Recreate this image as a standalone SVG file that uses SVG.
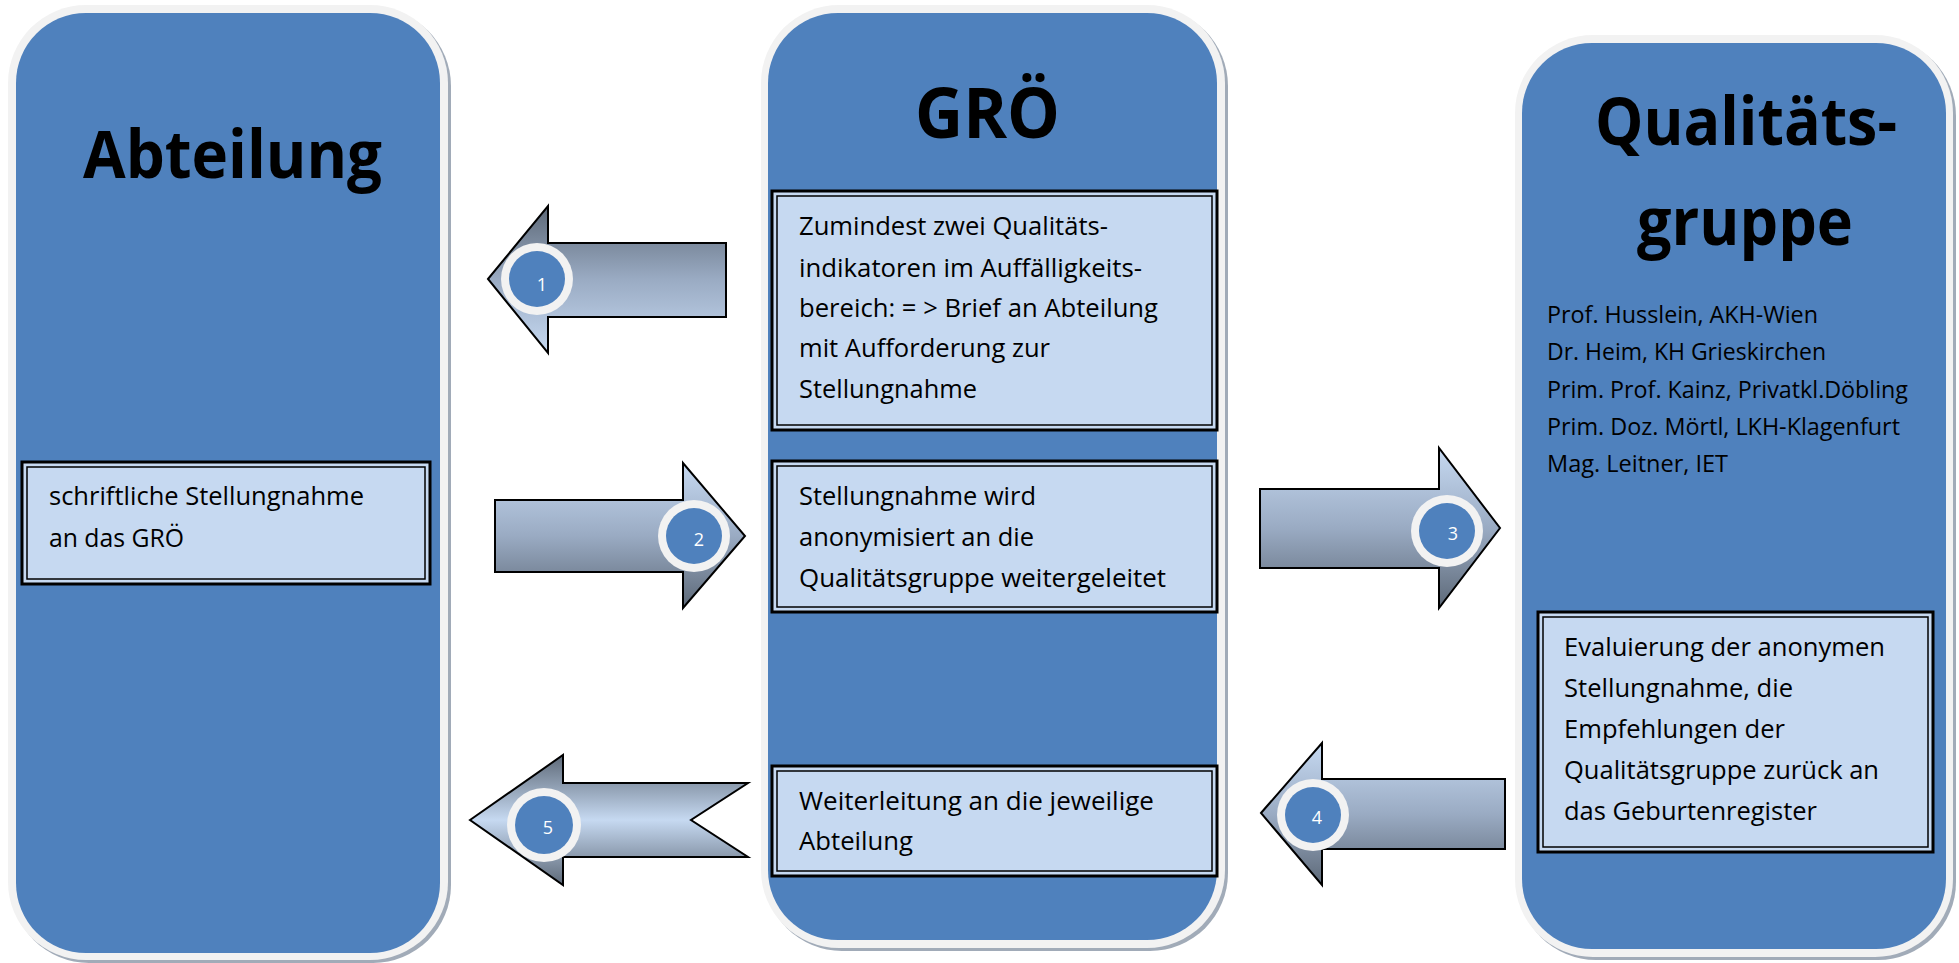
<svg xmlns="http://www.w3.org/2000/svg" width="1959" height="963" viewBox="0 0 1959 963">
<style>
.shadow{fill:#a1abb8}
.rim{fill:#f2f2f2}
.col{fill:#4f81bd}
.title{font-family:"Open Sans","Liberation Sans",sans-serif;font-weight:bold;font-size:67px;fill:#000}
.body{font-family:"Open Sans","Liberation Sans",sans-serif;font-size:25px;fill:#000}
.names{font-family:"Open Sans","Liberation Sans",sans-serif;font-size:23.5px;fill:#000}
.boxo{fill:#c6d9f1;stroke:#000;stroke-width:3}
.boxi{fill:none;stroke:#000;stroke-width:1.5}
.arrow{stroke:#000;stroke-width:2;stroke-linejoin:miter}
.ring{fill:#f2f2f2}
.dot{fill:#4f81bd}
.num{font-family:"Open Sans","Liberation Sans",sans-serif;font-size:18px;fill:#fff;text-anchor:middle}
</style>
<defs>
<linearGradient id="gDarkTop" x1="0" y1="0" x2="0" y2="1">
<stop offset="0" stop-color="#5d6978"/>
<stop offset="0.5" stop-color="#9aabc3"/>
<stop offset="1" stop-color="#c6d9f1"/>
</linearGradient>
<linearGradient id="gLightTop" x1="0" y1="0" x2="0" y2="1">
<stop offset="0" stop-color="#c6d9f1"/>
<stop offset="0.5" stop-color="#9aabc3"/>
<stop offset="1" stop-color="#5d6978"/>
</linearGradient>
<linearGradient id="gMid" x1="0" y1="0" x2="0" y2="1">
<stop offset="0" stop-color="#5d6978"/>
<stop offset="0.5" stop-color="#c6d9f1"/>
<stop offset="1" stop-color="#5d6978"/>
</linearGradient>
</defs>

<g id="abteilung">
<rect class="shadow" x="11" y="8" width="440" height="955" rx="78"/>
<rect class="rim" x="8" y="5" width="440" height="955" rx="78"/>
<rect class="col" x="16" y="13" width="424" height="940" rx="70"/>
<text class="title" x="83" y="178" textLength="299" lengthAdjust="spacingAndGlyphs">Abteilung</text>
</g>

<g id="abteilung-box">
<rect class="boxo" x="22" y="462" width="408" height="122"/>
<rect class="boxi" x="27" y="467" width="398" height="112"/>
<text class="body" x="49" y="505" textLength="315" lengthAdjust="spacingAndGlyphs">schriftliche Stellungnahme</text>
<text class="body" x="49" y="547" textLength="135" lengthAdjust="spacingAndGlyphs">an das GRÖ</text>
</g>

<g id="groe">
<rect class="shadow" x="764" y="8" width="464" height="943" rx="78"/>
<rect class="rim" x="761" y="5" width="464" height="943" rx="78"/>
<rect class="col" x="768" y="13" width="449" height="927" rx="70"/>
<text class="title" x="915" y="138" font-size="70" style="font-size:70px" textLength="145" lengthAdjust="spacingAndGlyphs">GRÖ</text>
</g>

<g id="groe-box1">
<rect class="boxo" x="772" y="191" width="445" height="239"/>
<rect class="boxi" x="777" y="196" width="435" height="229"/>
<text class="body" x="799" y="235" textLength="309" lengthAdjust="spacingAndGlyphs">Zumindest zwei Qualitäts-</text>
<text class="body" x="799" y="277" textLength="343" lengthAdjust="spacingAndGlyphs">indikatoren im Auffälligkeits-</text>
<text class="body" x="799" y="317" textLength="359" lengthAdjust="spacingAndGlyphs">bereich: = &gt; Brief an Abteilung</text>
<text class="body" x="799" y="357" textLength="251" lengthAdjust="spacingAndGlyphs">mit Aufforderung zur</text>
<text class="body" x="799" y="398" textLength="178" lengthAdjust="spacingAndGlyphs">Stellungnahme</text>
</g>

<g id="groe-box2">
<rect class="boxo" x="772" y="461" width="445" height="151"/>
<rect class="boxi" x="777" y="466" width="435" height="141"/>
<text class="body" x="799" y="505" textLength="237" lengthAdjust="spacingAndGlyphs">Stellungnahme wird</text>
<text class="body" x="799" y="546" textLength="235" lengthAdjust="spacingAndGlyphs">anonymisiert an die</text>
<text class="body" x="799" y="587" textLength="367" lengthAdjust="spacingAndGlyphs">Qualitätsgruppe weitergeleitet</text>
</g>

<g id="groe-box3">
<rect class="boxo" x="772" y="766" width="445" height="110"/>
<rect class="boxi" x="777" y="771" width="435" height="100"/>
<text class="body" x="799" y="810" textLength="355" lengthAdjust="spacingAndGlyphs">Weiterleitung an die jeweilige</text>
<text class="body" x="799" y="850" textLength="114" lengthAdjust="spacingAndGlyphs">Abteilung</text>
</g>

<g id="qualitaetsgruppe">
<rect class="shadow" x="1518" y="38" width="438" height="922" rx="78"/>
<rect class="rim" x="1515" y="35" width="438" height="922" rx="78"/>
<rect class="col" x="1522" y="43" width="424" height="906" rx="70"/>
<text class="title" x="1595" y="145" textLength="302" lengthAdjust="spacingAndGlyphs">Qualitäts-</text>
<text class="title" x="1637" y="245" textLength="216" lengthAdjust="spacingAndGlyphs">gruppe</text>
<text class="names" x="1547" y="323" textLength="271" lengthAdjust="spacingAndGlyphs">Prof. Husslein, AKH-Wien</text>
<text class="names" x="1547" y="360" textLength="279" lengthAdjust="spacingAndGlyphs">Dr. Heim, KH Grieskirchen</text>
<text class="names" x="1547" y="398" textLength="361" lengthAdjust="spacingAndGlyphs">Prim. Prof. Kainz, Privatkl.Döbling</text>
<text class="names" x="1547" y="435" textLength="353" lengthAdjust="spacingAndGlyphs">Prim. Doz. Mörtl, LKH-Klagenfurt</text>
<text class="names" x="1547" y="472" textLength="181" lengthAdjust="spacingAndGlyphs">Mag. Leitner, IET</text>
</g>

<g id="qualitaetsgruppe-box">
<rect class="boxo" x="1538" y="612" width="395" height="240"/>
<rect class="boxi" x="1543" y="617" width="385" height="230"/>
<text class="body" x="1564" y="656" textLength="321" lengthAdjust="spacingAndGlyphs">Evaluierung der anonymen</text>
<text class="body" x="1564" y="697" textLength="229" lengthAdjust="spacingAndGlyphs">Stellungnahme, die</text>
<text class="body" x="1564" y="738" textLength="221" lengthAdjust="spacingAndGlyphs">Empfehlungen der</text>
<text class="body" x="1564" y="779" textLength="315" lengthAdjust="spacingAndGlyphs">Qualitätsgruppe zurück an</text>
<text class="body" x="1564" y="820" textLength="253" lengthAdjust="spacingAndGlyphs">das Geburtenregister</text>
</g>

<g id="connectors">
<g id="arrow1">
<polygon class="arrow" fill="url(#gDarkTop)" points="488,279 548,206 548,243 726,243 726,317 548,317 548,353"/>
<circle class="ring" cx="537" cy="279" r="36"/>
<circle class="dot" cx="537" cy="279" r="28"/>
<text class="num" x="542" y="291">1</text>
</g>
<g id="arrow2">
<polygon class="arrow" fill="url(#gLightTop)" points="495,500 683,500 683,463 745,536 683,608 683,572 495,572"/>
<circle class="ring" cx="694" cy="536" r="36"/>
<circle class="dot" cx="694" cy="536" r="28"/>
<text class="num" x="699" y="546">2</text>
</g>
<g id="arrow3">
<polygon class="arrow" fill="url(#gLightTop)" points="1260,489 1439,489 1439,448 1500,528 1439,608 1439,568 1260,568"/>
<circle class="ring" cx="1447" cy="531" r="36"/>
<circle class="dot" cx="1447" cy="531" r="28"/>
<text class="num" x="1453" y="540">3</text>
</g>
<g id="arrow4">
<polygon class="arrow" fill="url(#gLightTop)" points="1261,813 1322,743 1322,779 1505,779 1505,849 1322,849 1322,885"/>
<circle class="ring" cx="1313" cy="815" r="36"/>
<circle class="dot" cx="1313" cy="815" r="28"/>
<text class="num" x="1317" y="824">4</text>
</g>
<g id="arrow5">
<polygon class="arrow" fill="url(#gMid)" points="470,820 563,755 563,783 748,783 691,820 748,857 563,857 563,885"/>
<circle class="ring" cx="544" cy="825" r="37"/>
<circle class="dot" cx="544" cy="825" r="29"/>
<text class="num" x="548" y="834">5</text>
</g>
</g>
</svg>
